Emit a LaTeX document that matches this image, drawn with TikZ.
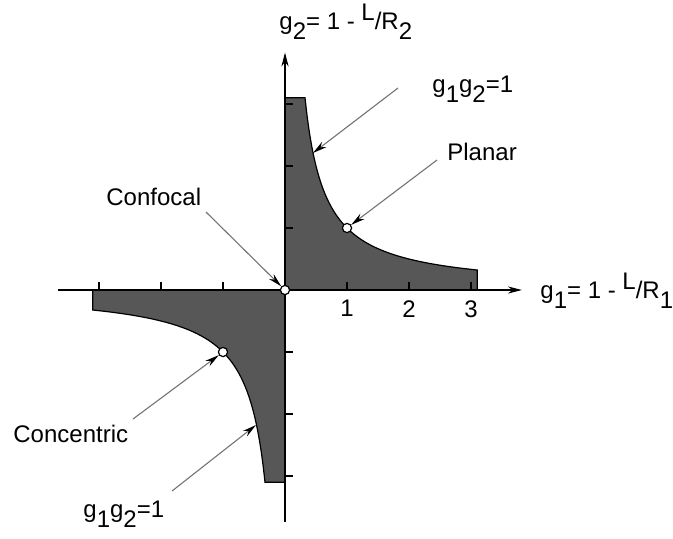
\documentclass[tikz,border=0pt]{standalone}
\usepackage{fontspec}
\setmainfont{Liberation Sans}
\usetikzlibrary{arrows.meta}
\newcommand{\sbx}[1]{\raisebox{-0.45em}{#1}}
\newcommand{\supL}[1]{\raisebox{0.36em}{#1}}
\begin{document}
\begin{tikzpicture}[x=0.5pt,y=-0.5pt,
  font=\fontsize{12}{14}\selectfont,
  region/.style={fill=black!66, draw=black, line width=0.6pt},
  axisline/.style={line width=0.6pt, -{Stealth[length=7pt,width=3.6pt]}},
  pointer/.style={draw=black!55, line width=0.55pt, -{Stealth[length=7pt,width=3.4pt,color=black]}},
  tickmark/.style={line width=0.55pt},
  spot/.style={circle, draw=black, fill=white, line width=0.6pt, inner sep=0pt, minimum size=4.6pt},
  lbl/.style={inner sep=0pt, anchor=base west}]
\useasboundingbox (0,0) rectangle (673,538);
% shaded regions and axes in graph units
\begin{scope}[shift={(285,290)}, x=31pt, y=31pt]
  \filldraw[region] (0,0) -- (0,3.1) -- plot[domain=0.3226:3.1, samples=80, smooth] (\x,{1/\x}) -- (3.1,0) -- cycle;
  \filldraw[region] (0,0) -- (-3.1,0) -- plot[domain=-3.1:-0.3226, samples=80, smooth] (\x,{1/\x}) -- (0,-3.1) -- cycle;
  \coordinate (xl) at (-3.66,0);
  \coordinate (xr) at (3.82,0);
  \coordinate (yb) at (0,-3.74);
  \coordinate (yt) at (0,3.83);
  \draw[axisline] (xl) -- (xr);
  \draw[axisline] (yb) -- (yt);
  \foreach \t in {-3,-2,-1,1,2,3} {
    \draw[tickmark] (\t,0) -- ++(0,0.13);
    \draw[tickmark] (0,\t) -- ++(0.13,0);
  }
  \foreach \t in {1,2,3} {
    \node[anchor=north, inner sep=0pt] (tl\t) at (\t,-0.16) {\t};
  }
\end{scope}
% points
\node[spot] (O) at (285,290) {};
\node[spot] (P) at (347,228) {};
\node[spot] (C) at (223,352) {};
\coordinate (h1) at (313,153);
\coordinate (h2) at (256,425);
% labels
\node[lbl] (ylab) at (279,29) {g\sbx{2}= 1 - \supL{L}/R\sbx{2}};
\node[lbl] (xlab) at (540,298) {g\sbx{1}= 1 - \supL{L}/R\sbx{1}};
\node[lbl] (gtop) at (432,92) {g\sbx{1}g\sbx{2}=1};
\node[lbl] (planar) at (447,160) {Planar};
\node[lbl] (confocal) at (106,205) {Confocal};
\node[lbl] (concentric) at (13,442) {Concentric};
\node[lbl] (gbot) at (83,517) {g\sbx{1}g\sbx{2}=1};
% pointer start points
\coordinate (s1) at (398,88);
\coordinate (s2) at (437,160);
\coordinate (s3) at (206,212);
\coordinate (s4) at (133,419);
\coordinate (s5) at (172,491);
\draw[pointer] (s1) -- (h1);
\draw[pointer] (s2) -- (P);
\draw[pointer] (s3) -- (O);
\draw[pointer] (s4) -- (C);
\draw[pointer] (s5) -- (h2);
\end{tikzpicture}
\end{document}
